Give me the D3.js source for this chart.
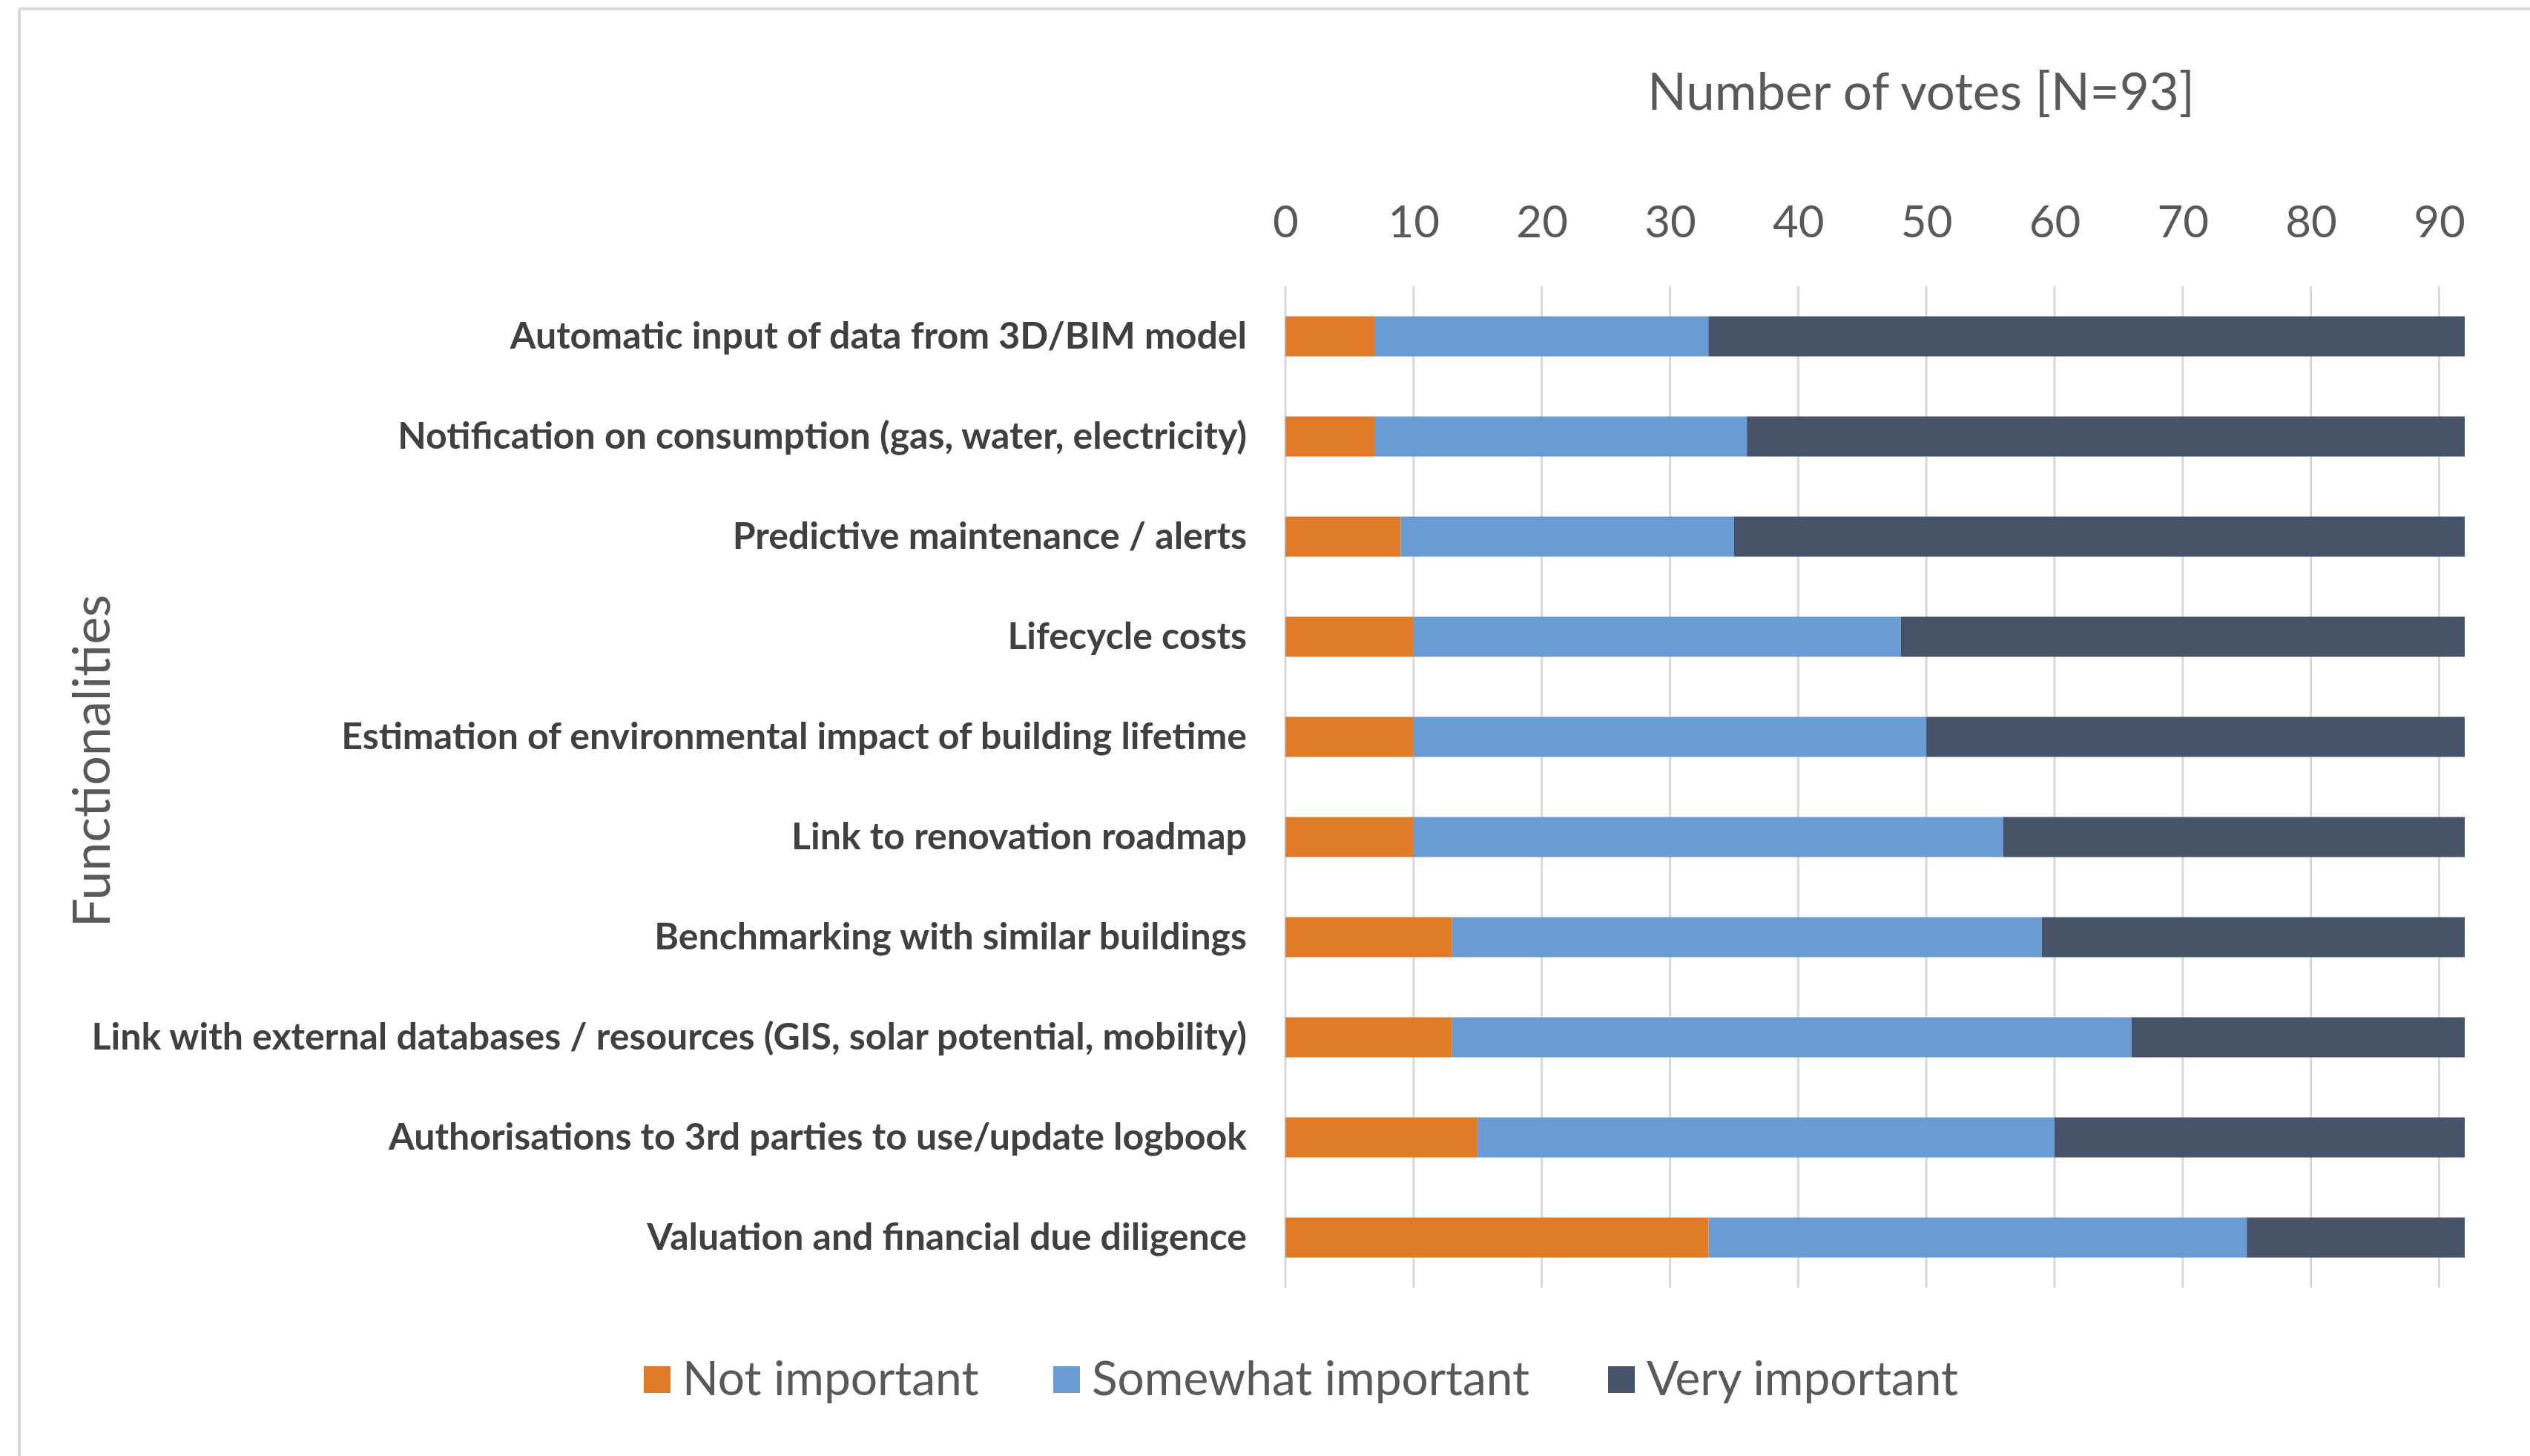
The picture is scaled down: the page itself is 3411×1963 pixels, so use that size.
<!DOCTYPE html>
<html>
<head>
<meta charset="utf-8">
<script src="https://cdn.jsdelivr.net/npm/d3@7"></script>
<style>
  body { margin: 0; background: #fff; overflow: hidden; }
  svg { display: block; }
  text { font-family: Lato, "Open Sans", sans-serif; }
</style>
</head>
<body>
<div id="chart-area"></div>
<script>
// Stacked horizontal bars: votes per functionality by importance
var categories = [
  'Automatic input of data from 3D/BIM model',
  'Notification on consumption (gas, water, electricity)',
  'Predictive maintenance / alerts',
  'Lifecycle costs',
  'Estimation of environmental impact of building lifetime',
  'Link to renovation roadmap',
  'Benchmarking with similar buildings',
  'Link with external databases / resources (GIS, solar potential, mobility)',
  'Authorisations to 3rd parties to use/update logbook',
  'Valuation and financial due diligence'
];
var seriesNames = ['Not important', 'Somewhat important', 'Very important'];
var notImportant      = [7, 7, 9, 10, 10, 10, 13, 13, 15, 33];
var somewhatImportant = [26, 29, 26, 38, 40, 46, 46, 53, 45, 42];
var veryImportant     = [59, 56, 57, 44, 42, 36, 33, 26, 32, 17];
var xTicks = [0, 10, 20, 30, 40, 50, 60, 70, 80, 90];

var outerWidth = 3411;
var outerHeight = 1963;
var margin = {left: 1733, right: 88, top: 386, bottom: 227};
var innerWidth = outerWidth - margin.left - margin.right;
var innerHeight = outerHeight - margin.top - margin.bottom;

var colors = ['#E27B27', '#6A9BD5', '#475369'];

var svg = d3.select('#chart-area').append('svg')
            .attr('width', outerWidth)
            .attr('height', outerHeight);

// frame edges of the figure (top and left are the only visible ones)
svg.append('line')
   .attr('x1', 26).attr('y1', 12)
   .attr('x2', outerWidth).attr('y2', 12)
   .attr('stroke', '#d9d9d9')
   .attr('stroke-width', 4);
svg.append('line')
   .attr('x1', 26).attr('y1', 12)
   .attr('x2', 26).attr('y2', outerHeight)
   .attr('stroke', '#d9d9d9')
   .attr('stroke-width', 4);

var g = svg.append('g')
           .attr('transform', 'translate(' + margin.left + ',' + margin.top + ')');

var xScale = d3.scaleLinear()
               .domain([0, 92])
               .range([0, innerWidth]);
var yScale = d3.scaleBand()
               .domain(categories)
               .range([0, innerHeight])
               .paddingInner(0.6)
               .paddingOuter(0.3);

// gridlines
g.selectAll('.grid')
 .data(xTicks)
 .enter().append('line')
 .attr('class', 'grid')
 .attr('x1', function(d){ return xScale(d); })
 .attr('x2', function(d){ return xScale(d); })
 .attr('y1', 0)
 .attr('y2', innerHeight)
 .attr('stroke', '#d9d9d9')
 .attr('stroke-width', 3);

// top axis labels
var xAxis = d3.axisTop(xScale)
              .tickValues(xTicks)
              .tickSize(0)
              .tickPadding(66);
var xAxisG = g.append('g').call(xAxis);
xAxisG.select('.domain').remove();
xAxisG.selectAll('text')
      .attr('font-size', '60px')
      .attr('font-family', 'Lato')
      .attr('fill', '#595959');

// stacked data
var rows = categories.map(function(c, i){
  return {cat: c, a: notImportant[i], b: somewhatImportant[i], c2: veryImportant[i]};
});
var stack = d3.stack().keys(['a', 'b', 'c2']);
var layers = stack(rows);

g.selectAll('.layer')
 .data(layers)
 .enter().append('g')
 .attr('class', 'layer')
 .attr('fill', function(d, i){ return colors[i]; })
 .selectAll('rect')
 .data(function(d){ return d; })
 .enter().append('rect')
 .attr('x', function(d){ return xScale(d[0]); })
 .attr('width', function(d){ return xScale(d[1]) - xScale(d[0]); })
 .attr('y', function(d){ return yScale(d.data.cat); })
 .attr('height', yScale.bandwidth());

// category labels
var yAxis = d3.axisLeft(yScale)
              .tickSize(0)
              .tickPadding(52);
var yAxisG = g.append('g').call(yAxis);
yAxisG.select('.domain').remove();
yAxisG.selectAll('text')
      .attr('font-size', '50px')
      .attr('font-weight', 'bold')
      .attr('font-family', 'Lato')
      .attr('fill', '#404040');

// axis titles
svg.append('text')
   .attr('x', 2590)
   .attr('y', 148)
   .attr('text-anchor', 'middle')
   .attr('font-size', '69px')
   .attr('fill', '#595959')
   .text('Number of votes [N=93]');

svg.append('text')
   .attr('transform', 'translate(148,1026) rotate(-90)')
   .attr('text-anchor', 'middle')
   .attr('font-size', '70px')
   .attr('fill', '#595959')
   .text('Functionalities');

// legend
var legendX = [868, 1420, 2168];
var legendG = svg.append('g')
                 .attr('transform', 'translate(0,1842)');
seriesNames.forEach(function(name, i){
  var row = legendG.append('g')
                   .attr('transform', 'translate(' + legendX[i] + ',0)');
  row.append('rect')
     .attr('width', 36)
     .attr('height', 36)
     .attr('fill', colors[i]);
  row.append('text')
     .attr('x', 52)
     .attr('y', 39)
     .attr('font-size', '64px')
     .attr('fill', '#595959')
     .text(name);
});
</script>
</body>
</html>
